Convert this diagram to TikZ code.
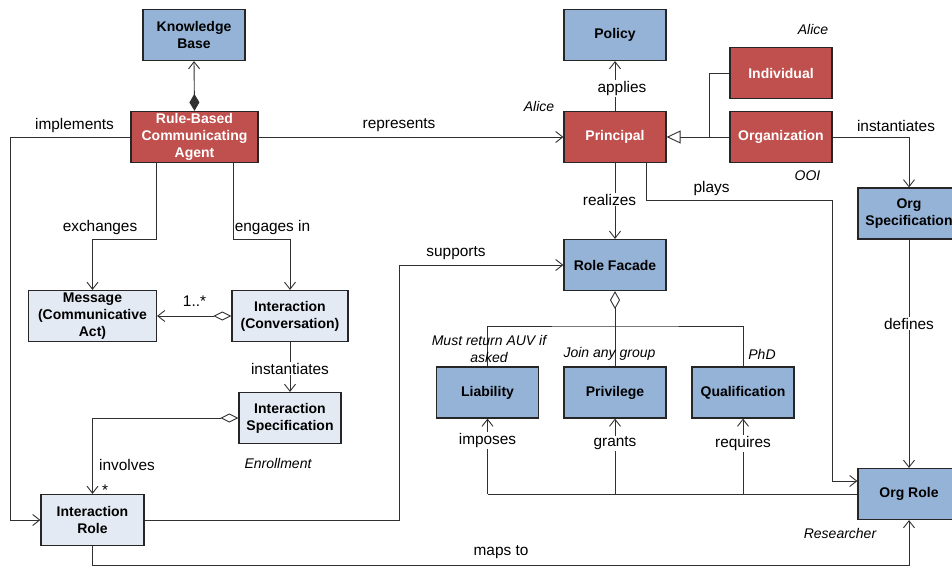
\documentclass[tikz,border=0pt]{standalone}
\usepackage{fontspec}
\setmainfont{Liberation Sans}
\usetikzlibrary{arrows.meta}
\definecolor{bluebox}{HTML}{95B3D7}
\definecolor{redbox}{HTML}{C0504D}
\definecolor{lightbox}{HTML}{E4EAF3}
\definecolor{edge}{HTML}{262626}
\definecolor{wire}{HTML}{303030}
\tikzset{
  box/.style={draw=edge, line width=1.2pt, minimum width=102pt, minimum height=51pt,
    inner sep=0pt, align=center, font=\fontsize{14}{17}\selectfont\bfseries},
  bluen/.style={box, fill=bluebox, text=black},
  redn/.style={box, fill=redbox, text=white},
  lightn/.style={box, fill=lightbox, text=black},
  conn/.style={draw=wire, line width=0.9pt},
  arr/.style={conn, -{Straight Barb[length=7pt,width=11pt,line width=0.9pt]}},
  lbl/.style={font=\fontsize{15.4}{17}\selectfont, inner sep=1pt, yshift=-1.5pt},
  wlbl/.style={lbl, fill=white},
  note/.style={font=\fontsize{14}{17}\selectfont\itshape, inner sep=0pt, align=center, yshift=-1pt},
}
\begin{document}
\begin{tikzpicture}[x=1pt,y=-1pt]
\useasboundingbox (0,0) rectangle (952,567);
\clip (0,0) rectangle (952,567);
\fill[white] (0,0) rectangle (952,567);

% nodes
\node[bluen] (kb) at (194,35) {Knowledge\\Base};
\node[redn, minimum width=127pt] (agent) at (194.5,137) {Rule-Based\\Communicating\\Agent};
\node[bluen] (policy) at (615,35) {Policy};
\node[redn] (indiv) at (781,73) {Individual};
\node[redn] (principal) at (615,137) {Principal};
\node[redn] (org) at (781,137) {Organization};
\node[bluen] (orgspec) at (909,213.5) {Org\\Specification};
\node[bluen] (facade) at (615,265) {Role Facade};
\node[lightn, minimum width=128pt] (msg) at (92.5,316) {Message\\(Communicative\\Act)};
\node[lightn, minimum width=116pt] (inter) at (290,316) {Interaction\\(Conversation)};
\node[lightn] (ispec) at (290,418) {Interaction\\Specification};
\node[lightn, minimum width=103pt] (irole) at (92.5,520) {Interaction\\Role};
\node[bluen] (liab) at (487.5,392.5) {Liability};
\node[bluen] (priv) at (615,392.5) {Privilege};
\node[bluen] (qual) at (743,392.5) {Qualification};
\node[bluen] (orgrole) at (909,494) {Org Role};

% coordinates
\coordinate (impl) at (10,137);
\coordinate (exA) at (156,239);
\coordinate (enA) at (233,239);
\coordinate (sup) at (399,520);
\coordinate (mapA) at (92.5,565);
\coordinate (gen) at (709,137);
\coordinate (playA) at (646,200);
\coordinate (playB) at (832,200);
\coordinate (agg) at (615,326);
\coordinate (bus) at (487.5,494);

% connectors
\draw[conn, {Diamond[length=17pt,width=10pt]}-{Straight Barb[length=7pt,width=11pt,line width=0.9pt]}] (agent.north) -- (kb.south);
\draw[arr] (agent.east) -- (agent.east -| principal.west);
\draw[arr] (agent.west) -- (impl) |- (irole.west);
\draw[arr] (agent.south -| exA) -- (exA) -| (msg.north);
\draw[arr] (agent.south -| enA) -- (enA) -| (inter.north);
\draw[conn, {Diamond[open,length=18pt,width=9pt]}-{Straight Barb[length=7pt,width=11pt,line width=0.9pt]}] (inter.west) -- (msg.east);
\draw[arr] (inter.south) -- (ispec.north) node[wlbl, midway] {instantiates};
\draw[conn, {Diamond[open,length=18pt,width=9pt]}-{Straight Barb[length=7pt,width=11pt,line width=0.9pt]}] (ispec.west) -| (irole.north);
\draw[arr] (irole.east) -- (sup) |- (facade.west);
\draw[arr] (irole.south) -- (mapA) -| (orgrole.south);
\draw[arr] (principal.north) -- (policy.south);
\draw[conn] (indiv.west) -| (gen);
\draw[conn] (org.west) -- (gen);
\draw[conn, -{Triangle[open,length=14pt,width=13pt,line width=0.9pt]}, fill=white] (gen) -- (principal.east);
\draw[arr] (org.east) -| (orgspec.north);
\draw[arr] (principal.south -| playA) -- (playA) -- (playB) |- ([yshift=13pt]orgrole.west);
\draw[arr] (principal.south) -- (facade.north);
\draw[arr] (orgspec.south) -- (orgrole.north);
\draw[conn, {Diamond[open,length=18pt,width=10pt]}-] (facade.south) -- (agg) -- (priv.north);
\draw[conn] (liab.north) |- (agg) -| (qual.north);
\draw[conn] (orgrole.west) -- (bus);
\draw[arr] (bus) -- (liab.south);
\draw[arr] (bus -| priv.south) -- (priv.south);
\draw[arr] (bus -| qual.south) -- (qual.south);

% labels
\node[lbl] at (74.5,124) {implements};
\node[lbl] at (100,226) {exchanges};
\node[lbl] at (272.5,226) {engages in};
\node[lbl] at (399,124) {represents};
\node[lbl] at (194.5,300) {1..*};
\node[lbl] at (127,463) {involves};
\node[lbl] at (105,489) {*};
\node[lbl] at (456,252) {supports};
\node[lbl] at (501,551) {maps to};
\node[wlbl] at (622,87) {applies};
\node[wlbl] at (609.5,198) {realizes};
\node[lbl] at (711.5,187) {plays};
\node[lbl] at (896,124) {instantiates};
\node[wlbl] at (909,322) {defines};
\node[wlbl] at (487.5,439) {imposes};
\node[wlbl] at (615,442) {grants};
\node[wlbl] at (743,442) {requires};

\node[note] at (278,462) {Enrollment};
\node[note] at (539,105) {Alice};
\node[note] at (813,28) {Alice};
\node[note] at (807.5,175) {OOI};
\node[note] at (489,347.5) {Must return AUV if\\asked};
\node[note] at (609.5,353) {Join any group};
\node[note] at (762,353) {PhD};
\node[note] at (840,532) {Researcher};
\end{tikzpicture}
\end{document}
